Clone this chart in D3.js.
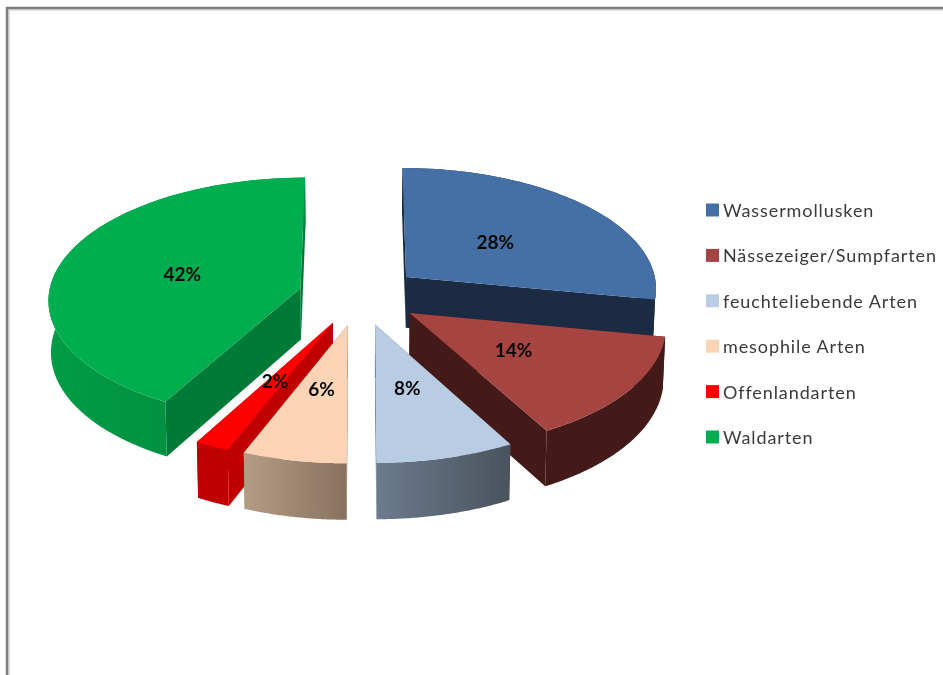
<!DOCTYPE html>
<html>
<head>
<meta charset="utf-8">
<script src="https://cdn.jsdelivr.net/npm/d3@7"></script>
<style>
  html, body { margin: 0; padding: 0; background: #fff; }
  svg { display: block; filter: blur(0.45px); }
  .pct { font-family: Lato, sans-serif; font-weight: 700; font-size: 19px; fill: #0a0a0a; text-anchor: middle; dominant-baseline: central; }
  .legend-label { font-family: Lato, sans-serif; font-size: 18px; letter-spacing: 0.9px; fill: #3a3a3a; dominant-baseline: central; }
</style>
</head>
<body>
<svg id="chart" width="943" height="675"></svg>
<script>
// Chart values
const categories = ["Wassermollusken", "Nässezeiger/Sumpfarten", "feuchteliebende Arten", "mesophile Arten", "Offenlandarten", "Waldarten"];
const shares = [28, 14, 8, 6, 2, 42];

// Colours per slice
const faceColors = ["#4470a6", "#a64441", "#b8cce4", "#fbd4b5", "#ff0000", "#00ad4f"];
const cutColors = ["#1a2b43", "#431a17", "#4a535c", "#8a7460", "#c00000", "#007a37"];
const wallFrom = ["#1a2b43", "#431a17", "#6c7b8f", "#b59c85", "#c00000", "#009c46"];
const wallTo = ["#1a2b43", "#431a17", "#4a535c", "#88725e", "#c00000", "#00863d"];

// Back to front, so nearer slices cover the walls of the ones behind
const drawOrder = [0, 5, 1, 4, 3, 2];

// Projection of the tilted pie
const cx = 359.5, cy = 295.5;
const radiusX = 252, radiusY = 121.2;
const explode = 61 / 251;
const perspectiveX = 0.085, perspectiveY = 0.085;

function project(angle, r, mid, bottom) {
    const u = r * Math.sin(angle) + explode * Math.sin(mid);
    const v = -r * Math.cos(angle) - explode * Math.cos(mid);
    let x = cx + radiusX * u / (1 - perspectiveX * v);
    let y = cy + radiusY * v / (1 - perspectiveY * v);
    if (bottom) {
        x = cx + (x - cx) * 0.992;
        y += 51.5 + 4 * v;
    }
    return [x, y];
}

const svg = d3.select("#chart");
const defs = svg.append("defs");
const line = d3.line();

// Frame of the original screenshot
svg.append("path").attr("d", "M7.5,675V8.5H943").attr("fill", "none").attr("stroke", "#c4c4c4").attr("stroke-width", 4);
svg.append("path").attr("d", "M7,675V8H943").attr("fill", "none").attr("stroke", "#7d7d7d").attr("stroke-width", 2);

const slices = d3.pie().sort(null).value(d => d)(shares);

drawOrder.forEach(i => {
    const s = slices[i];
    const mid = (s.startAngle + s.endAngle) / 2;
    const steps = d3.range(0, 61).map(k => s.startAngle + (s.endAngle - s.startAngle) * k / 60);
    const topArc = steps.map(a => project(a, 1, mid, false));
    const bottomArc = steps.map(a => project(a, 1, mid, true));
    const topCenter = project(0, 0, mid, false);
    const bottomCenter = project(0, 0, mid, true);

    const xs = d3.extent(topArc, d => d[0]);
    const grad = defs.append("linearGradient")
        .attr("id", `wall${i}`)
        .attr("gradientUnits", "userSpaceOnUse")
        .attr("x1", xs[0]).attr("x2", xs[1]).attr("y1", 0).attr("y2", 0);
    grad.append("stop").attr("offset", 0).attr("stop-color", wallFrom[i]);
    grad.append("stop").attr("offset", 1).attr("stop-color", wallTo[i]);

    const g = svg.append("g");

    // Cut walls
    [0, 60].forEach(n => {
        g.append("path")
            .attr("d", line([topCenter, topArc[n], bottomArc[n], bottomCenter]) + "Z")
            .attr("fill", cutColors[i]);
    });

    // Outer wall
    g.append("path")
        .attr("d", line(topArc.concat(bottomArc.slice().reverse())) + "Z")
        .attr("fill", `url(#wall${i})`);

    // Top face
    g.append("path")
        .attr("d", line([topCenter].concat(topArc)) + "Z")
        .attr("fill", faceColors[i]);
});

// Percent labels
slices.forEach(s => {
    const mid = (s.startAngle + s.endAngle) / 2;
    const p = project(mid, 0.49, mid, false);
    svg.append("text")
        .attr("class", "pct")
        .attr("x", p[0] - 1)
        .attr("y", p[1])
        .text(`${s.data}%`);
});

// Legend
const legendY = d3.scalePoint().domain(categories).range([210, 437]);
const legend = svg.selectAll(".legend-row")
    .data(categories)
    .enter()
    .append("g")
    .attr("class", "legend-row")
    .attr("transform", d => `translate(706, ${legendY(d)})`);

legend.append("rect")
    .attr("x", 0)
    .attr("y", -6.5)
    .attr("width", 13)
    .attr("height", 13)
    .attr("fill", (d, i) => faceColors[i]);

legend.append("text")
    .attr("class", "legend-label")
    .attr("x", 17)
    .attr("y", 0)
    .text(d => d);
</script>
</body>
</html>
